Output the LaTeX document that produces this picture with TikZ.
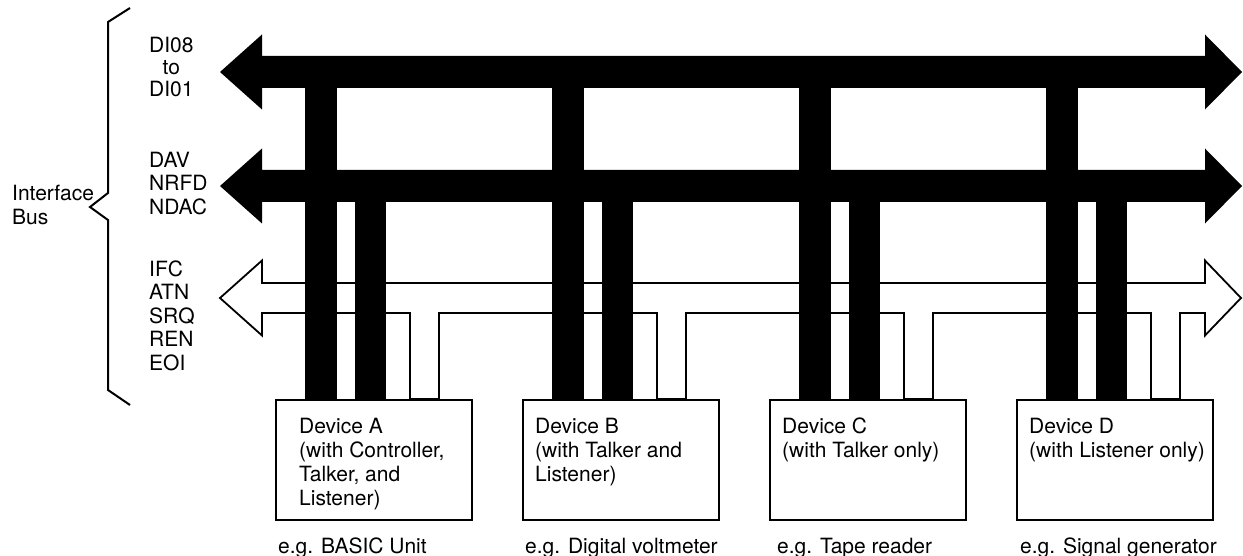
\documentclass[tikz,border=0pt]{standalone}
\usepackage{fontspec}
\setmainfont{TeX Gyre Heros}
\usetikzlibrary{calc}

\begin{document}
\begin{tikzpicture}[x=1pt, y=-1pt,
  every node/.style={font=\fontsize{21}{23.5}\selectfont},
  devbox/.style={draw, line width=2pt, inner sep=0pt,
    minimum width=196pt, minimum height=120pt, anchor=north west},
  devtext/.style={align=left, anchor=north west, inner sep=0pt,
    font=\fontsize{21}{24}\selectfont},
  buslabel/.style={align=left, anchor=west, inner sep=0pt},
  egtext/.style={anchor=base west, inner sep=0pt},
  openbus/.style={draw, line width=1.8pt, fill=white, line join=miter},
  datapath/.style={line width=31.5pt}]

\useasboundingbox (0,0) rectangle (1243,556);

% Brace
\draw[line width=2pt, line join=miter] (130,8) -- (108,22) -- (108,193) -- (90,207)
  -- (108,220) -- (108,390) -- (130,405);
\node[buslabel] (ifbus) at (12,205) {Interface\\Bus};

% Bus labels
\node[buslabel, align=center, font=\fontsize{21}{22}\selectfont] (dilbl) at (149,67.5) {DI08\\to\\DI01};
\node[buslabel] (hslbl) at (149,183.5) {DAV\\NRFD\\NDAC};
\node[buslabel] (mglbl) at (149,315.5) {IFC\\ATN\\SRQ\\REN\\EOI};

% Devices
\node[devbox] (devA) at (275,399) {};
\node[devbox] (devB) at (522,399) {};
\node[devbox] (devC) at (769,399) {};
\node[devbox] (devD) at (1016,399) {};

% Bus taps on the devices
\coordinate (diA) at ($(devA.north west)+(46,0)$);
\coordinate (hsA) at ($(devA.north west)+(95.5,0)$);
\coordinate (mgAl) at ($(devA.north west)+(135,0)$);
\coordinate (mgAr) at ($(devA.north west)+(164,0)$);
\coordinate (diB) at ($(devB.north west)+(46,0)$);
\coordinate (hsB) at ($(devB.north west)+(95.5,0)$);
\coordinate (mgBl) at ($(devB.north west)+(135,0)$);
\coordinate (mgBr) at ($(devB.north west)+(164,0)$);
\coordinate (diC) at ($(devC.north west)+(46,0)$);
\coordinate (hsC) at ($(devC.north west)+(95.5,0)$);
\coordinate (mgCl) at ($(devC.north west)+(135,0)$);
\coordinate (mgCr) at ($(devC.north west)+(164,0)$);
\coordinate (diD) at ($(devD.north west)+(46,0)$);
\coordinate (hsD) at ($(devD.north west)+(95.5,0)$);
\coordinate (mgDl) at ($(devD.north west)+(135,0)$);
\coordinate (mgDr) at ($(devD.north west)+(164,0)$);

% Buses
\coordinate (dibus) at (0,72);
\coordinate (hsbus) at (0,186);
\coordinate (mgbot) at (0,313);
\fill (220,72) -- (262,34.5) -- (262,56) -- (1205,56) -- (1205,34.5) -- (1242,72)
  -- (1205,109.5) -- (1205,88) -- (262,88) -- (262,109.5) -- cycle;
\fill (220,186) -- (262,148.5) -- (262,170) -- (1205,170) -- (1205,148.5) -- (1242,186)
  -- (1205,223.5) -- (1205,202) -- (262,202) -- (262,223.5) -- cycle;
\filldraw[openbus] (220,298) -- (262,260.5) -- (262,283) -- (1205,283) -- (1205,260.5)
  -- (1241,298) -- (1205,335.5) -- (1205,313)
  -- (mgDr |- mgbot) -- (mgDr) -- (mgDl) -- (mgDl |- mgbot)
  -- (mgCr |- mgbot) -- (mgCr) -- (mgCl) -- (mgCl |- mgbot)
  -- (mgBr |- mgbot) -- (mgBr) -- (mgBl) -- (mgBl |- mgbot)
  -- (mgAr |- mgbot) -- (mgAr) -- (mgAl) -- (mgAl |- mgbot)
  -- (262,313) -- (262,335.5) -- cycle;

% Data and handshake lines
\draw[datapath] (diA) -- (diA |- dibus);
\draw[datapath] (hsA) -- (hsA |- hsbus);
\draw[datapath] (diB) -- (diB |- dibus);
\draw[datapath] (hsB) -- (hsB |- hsbus);
\draw[datapath] (diC) -- (diC |- dibus);
\draw[datapath] (hsC) -- (hsC |- hsbus);
\draw[datapath] (diD) -- (diD |- dibus);
\draw[datapath] (hsD) -- (hsD |- hsbus);

% Device texts
\node[devtext] (txtA) at ($(devA.north west)+(24,19)$)
  {Device A\\(with Controller,\\Talker, and\\Listener)};
\node[egtext] (egA) at ($(devA.south west)+(3,32)$) {e.g. BASIC Unit};
\node[devtext] (txtB) at ($(devB.north west)+(13,19)$)
  {Device B\\(with Talker and\\Listener)};
\node[egtext] (egB) at ($(devB.south west)+(3,32)$) {e.g. Digital voltmeter};
\node[devtext] (txtC) at ($(devC.north west)+(13,19)$)
  {Device C\\(with Talker only)};
\node[egtext] (egC) at ($(devC.south west)+(8,32)$) {e.g. Tape reader};
\node[devtext] (txtD) at ($(devD.north west)+(13,19)$)
  {Device D\\(with Listener only)};
\node[egtext] (egD) at ($(devD.south west)+(4,32)$) {e.g. Signal generator};

\end{tikzpicture}
\end{document}
